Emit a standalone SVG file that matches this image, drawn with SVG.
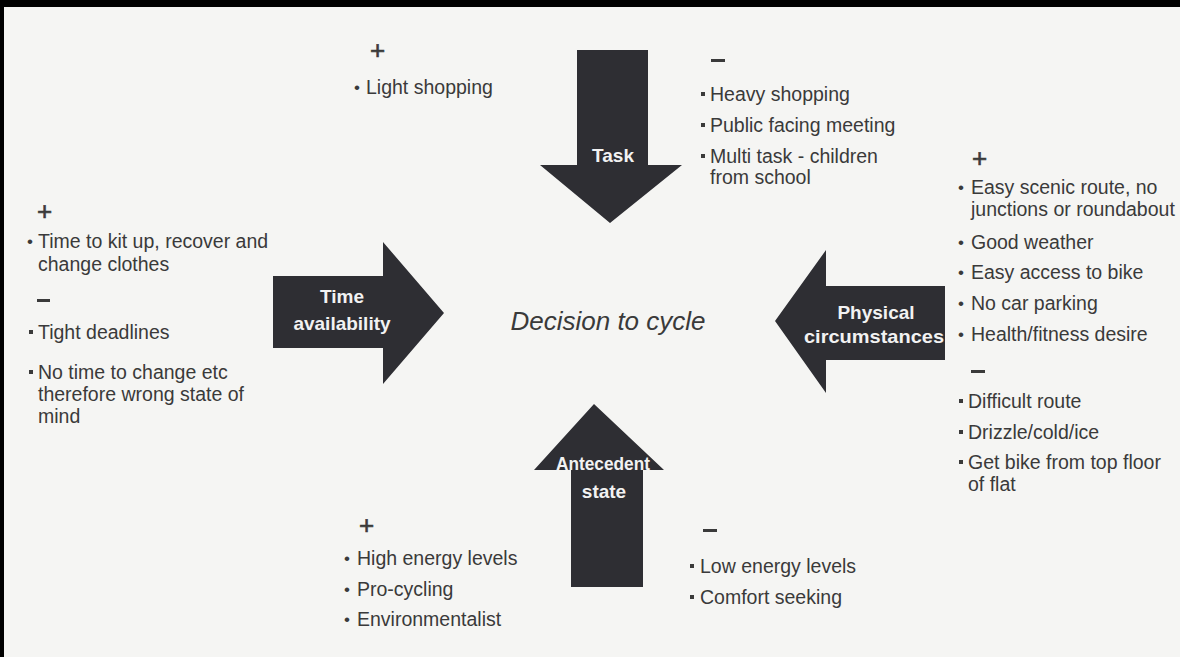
<svg xmlns="http://www.w3.org/2000/svg" width="1180" height="657" viewBox="0 0 1180 657">
  <style>
    .t { font-family: "Liberation Sans", Arial, sans-serif; font-size: 19.5px; fill: #3a3a3a; }
    .dot { font-family: "Liberation Sans", Arial, sans-serif; font-size: 17px; fill: #3a3a3a; }
    .sign { font-family: "Liberation Sans", Arial, sans-serif; font-size: 26px; fill: #3a3a3a; stroke: #3a3a3a; stroke-width: 0.6; }
    .lbl { font-family: "Liberation Sans", Arial, sans-serif; font-size: 19px; font-weight: bold; fill: #f2f2f2; text-anchor: middle; }
    .centre { font-family: "Liberation Sans", Arial, sans-serif; font-size: 26px; font-style: italic; fill: #3a3a3a; text-anchor: middle; }
    .arrow { fill: #2e2e33; }
    .sq { fill: #3a3a3a; }
  </style>

  <!-- page -->
  <rect x="0" y="0" width="1180" height="657" fill="#f5f5f3"/>
  <rect x="0" y="0" width="1180" height="7" fill="#000"/>
  <rect x="0" y="0" width="4" height="657" fill="#000"/>

  <!-- centre label -->
  <g id="decision">
    <text class="centre" x="608" y="330">Decision to cycle</text>
  </g>

  <!-- the four influence arrows -->
  <g id="connectors">
    <g id="task">
      <path class="arrow" d="M577,50 H648 V165 H682 L610,223 L540,165 H577 Z"/>
      <text class="lbl" x="613" y="162">Task</text>
    </g>
    <g id="time-availability">
      <path class="arrow" d="M273,276 H383 V242 L444,313 L383,384 V348 H273 Z"/>
      <text class="lbl" x="342" y="303">Time</text>
      <text class="lbl" x="342" y="330">availability</text>
    </g>
    <g id="physical-circumstances">
      <path class="arrow" d="M945,286 V360 H826 V393 L775,321 L826,250 V286 Z"/>
      <text class="lbl" x="876" y="319">Physical</text>
      <text class="lbl" x="874" y="343" textLength="140" lengthAdjust="spacingAndGlyphs">circumstances</text>
    </g>
    <g id="antecedent-state">
      <path class="arrow" d="M594,404 L664,470 H643 V587 H571 V470 H534 Z"/>
      <text class="lbl" x="603" y="470" textLength="94" lengthAdjust="spacingAndGlyphs">Antecedent</text>
      <text class="lbl" x="604" y="498">state</text>
    </g>
  </g>

  <!-- task: positives -->
  <g id="task-plus">
    <text class="sign" x="370" y="59">+</text>
    <text class="dot" x="354" y="93">•</text>
    <text class="t" x="366" y="94">Light shopping</text>
  </g>

  <!-- task: negatives -->
  <g id="task-minus">
    <rect x="711" y="59" width="14" height="3" class="sq"/>
    <rect x="701" y="92" width="4" height="4" class="sq"/>
    <text class="t" x="710" y="101">Heavy shopping</text>
    <rect x="701" y="123" width="4" height="4" class="sq"/>
    <text class="t" x="710" y="132">Public facing meeting</text>
    <rect x="701" y="154" width="4" height="4" class="sq"/>
    <text class="t" x="710" y="163">Multi task - children</text>
    <text class="t" x="710" y="184">from school</text>
  </g>

  <!-- time availability: positives and negatives -->
  <g id="time-notes">
    <text class="sign" x="37" y="220">+</text>
    <text class="dot" x="27" y="247">•</text>
    <text class="t" x="38" y="248">Time to kit up, recover and</text>
    <text class="t" x="38" y="271">change clothes</text>
    <rect x="37" y="299" width="13" height="3" class="sq"/>
    <rect x="29" y="330" width="4" height="4" class="sq"/>
    <text class="t" x="38" y="339">Tight deadlines</text>
    <rect x="29" y="370" width="4" height="4" class="sq"/>
    <text class="t" x="38" y="379">No time to change etc</text>
    <text class="t" x="38" y="401">therefore wrong state of</text>
    <text class="t" x="38" y="423">mind</text>
  </g>

  <!-- physical circumstances: positives and negatives -->
  <g id="physical-notes">
    <text class="sign" x="972" y="167">+</text>
    <text class="dot" x="958" y="193">•</text>
    <text class="t" x="971" y="194">Easy scenic route, no</text>
    <text class="t" x="971" y="216">junctions or roundabout</text>
    <text class="dot" x="958" y="248">•</text>
    <text class="t" x="971" y="249">Good weather</text>
    <text class="dot" x="958" y="278">•</text>
    <text class="t" x="971" y="279">Easy access to bike</text>
    <text class="dot" x="958" y="309">•</text>
    <text class="t" x="971" y="310">No car parking</text>
    <text class="dot" x="958" y="340">•</text>
    <text class="t" x="971" y="341">Health/fitness desire</text>
    <rect x="971" y="370" width="14" height="3" class="sq"/>
    <rect x="959" y="399" width="4" height="4" class="sq"/>
    <text class="t" x="968" y="408">Difficult route</text>
    <rect x="959" y="430" width="4" height="4" class="sq"/>
    <text class="t" x="968" y="439">Drizzle/cold/ice</text>
    <rect x="959" y="460" width="4" height="4" class="sq"/>
    <text class="t" x="968" y="469">Get bike from top floor</text>
    <text class="t" x="968" y="491">of flat</text>
  </g>

  <!-- antecedent state: positives -->
  <g id="antecedent-plus">
    <text class="sign" x="359" y="534">+</text>
    <text class="dot" x="344" y="564">•</text>
    <text class="t" x="357" y="565">High energy levels</text>
    <text class="dot" x="344" y="595">•</text>
    <text class="t" x="357" y="596">Pro-cycling</text>
    <text class="dot" x="344" y="625">•</text>
    <text class="t" x="357" y="626">Environmentalist</text>
  </g>

  <!-- antecedent state: negatives -->
  <g id="antecedent-minus">
    <rect x="703" y="529" width="14" height="3" class="sq"/>
    <rect x="690" y="564" width="4" height="4" class="sq"/>
    <text class="t" x="700" y="573">Low energy levels</text>
    <rect x="690" y="595" width="4" height="4" class="sq"/>
    <text class="t" x="700" y="604">Comfort seeking</text>
  </g>
</svg>
